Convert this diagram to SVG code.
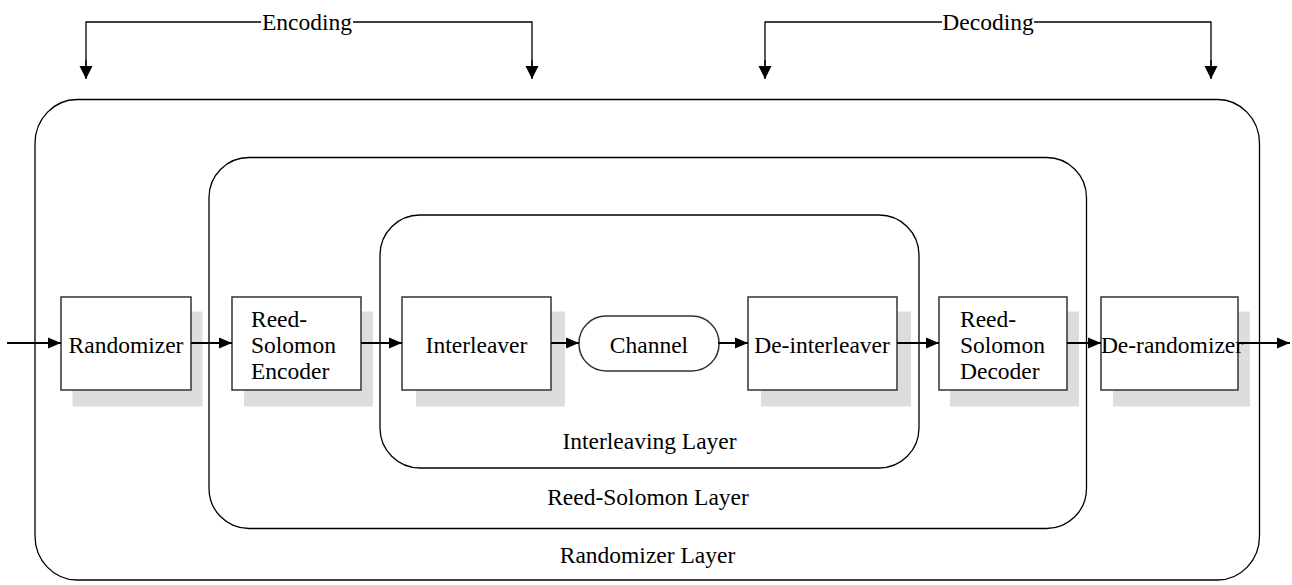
<svg xmlns="http://www.w3.org/2000/svg" width="1292" height="585" viewBox="0 0 1292 585">
<style>
.t{font-family:"Liberation Serif","Times New Roman",serif;font-size:23.5px;fill:#000}
.c{text-anchor:middle}
.layer{fill:none;stroke:#000;stroke-width:1.3}
.box{fill:#fff;stroke:#333;stroke-width:1.5}
.sh{fill:#dddddd}
.ar{fill:none;stroke:#000;stroke-width:2}
.br{fill:none;stroke:#000;stroke-width:1.3}
</style>
<defs>
<marker id="ah" markerUnits="userSpaceOnUse" markerWidth="14" markerHeight="12" refX="13" refY="6" orient="auto">
<path d="M0,0.5 L13,6 L0,11.5 Z" fill="#000"/>
</marker>
<marker id="ahb" markerUnits="userSpaceOnUse" markerWidth="14" markerHeight="14" refX="13" refY="7" orient="auto">
<path d="M0,0.5 L13,7 L0,13.5 Z" fill="#000"/>
</marker>
</defs>
<rect width="1292" height="585" fill="#fff"/>

<g id="randomizer-layer">
<rect class="layer" x="35" y="99.5" width="1224.5" height="480.5" rx="42" ry="44"/>
<text class="t c" x="647.5" y="563">Randomizer Layer</text>
</g>
<g id="reed-solomon-layer">
<rect class="layer" x="209" y="157.5" width="877.5" height="371" rx="40" ry="40"/>
<text class="t c" x="648" y="505">Reed-Solomon Layer</text>
</g>
<g id="interleaving-layer">
<rect class="layer" x="380" y="215" width="539" height="253" rx="40" ry="40"/>
<text class="t c" x="649.5" y="449">Interleaving Layer</text>
</g>

<g id="randomizer">
<rect class="sh" x="72.5" y="311.5" width="130" height="95"/>
<rect class="box" x="61" y="297" width="130" height="93"/>
<text class="t c" x="126" y="353">Randomizer</text>
</g>
<g id="rs-encoder">
<rect class="sh" x="244" y="311.5" width="129" height="95"/>
<rect class="box" x="232" y="297" width="129" height="93"/>
<text class="t" x="251" y="327">Reed-</text>
<text class="t" x="251" y="353">Solomon</text>
<text class="t" x="251" y="379">Encoder</text>
</g>
<g id="interleaver">
<rect class="sh" x="416" y="311.5" width="149" height="95"/>
<rect class="box" x="402" y="297" width="149" height="93"/>
<text class="t c" x="476.5" y="353">Interleaver</text>
</g>
<g id="channel">
<rect class="box" x="579" y="316" width="140" height="55" rx="27" ry="27"/>
<text class="t c" x="649" y="353">Channel</text>
</g>
<g id="de-interleaver">
<rect class="sh" x="761" y="311.5" width="150" height="95"/>
<rect class="box" x="748" y="297" width="149" height="93"/>
<text class="t c" x="822" y="353">De-interleaver</text>
</g>
<g id="rs-decoder">
<rect class="sh" x="950" y="311.5" width="129" height="95"/>
<rect class="box" x="939" y="297" width="128" height="93"/>
<text class="t" x="960" y="327">Reed-</text>
<text class="t" x="960" y="353">Solomon</text>
<text class="t" x="960" y="379">Decoder</text>
</g>
<g id="de-randomizer">
<rect class="sh" x="1113" y="311.5" width="137" height="95"/>
<rect class="box" x="1101" y="297" width="137" height="93"/>
<text class="t c" x="1172" y="353">De-randomizer</text>
</g>

<g id="encoding">
<path class="br" d="M86,78 V22 H261 M353,22 H532 V78" />
<line class="br" x1="86" y1="60" x2="86" y2="79" marker-end="url(#ahb)"/>
<line class="br" x1="532" y1="60" x2="532" y2="79" marker-end="url(#ahb)"/>
<text class="t c" x="307" y="30">Encoding</text>
</g>
<g id="decoding">
<path class="br" d="M765,78 V22 H942 M1034,22 H1211 V78" />
<line class="br" x1="765" y1="60" x2="765" y2="79" marker-end="url(#ahb)"/>
<line class="br" x1="1211" y1="60" x2="1211" y2="79" marker-end="url(#ahb)"/>
<text class="t c" x="988" y="30">Decoding</text>
</g>

<g id="connectors">
<line class="ar" x1="7" y1="343" x2="61" y2="343" marker-end="url(#ah)"/>
<line class="ar" x1="191" y1="343" x2="232" y2="343" marker-end="url(#ah)"/>
<line class="ar" x1="361" y1="343" x2="402" y2="343" marker-end="url(#ah)"/>
<line class="ar" x1="551" y1="343" x2="579" y2="343" marker-end="url(#ah)"/>
<line class="ar" x1="718" y1="343" x2="748" y2="343" marker-end="url(#ah)"/>
<line class="ar" x1="897" y1="343" x2="939" y2="343" marker-end="url(#ah)"/>
<line class="ar" x1="1067" y1="343" x2="1101" y2="343" marker-end="url(#ah)"/>
<line class="ar" x1="1238" y1="343" x2="1290" y2="343" marker-end="url(#ah)"/>
</g>
</svg>
